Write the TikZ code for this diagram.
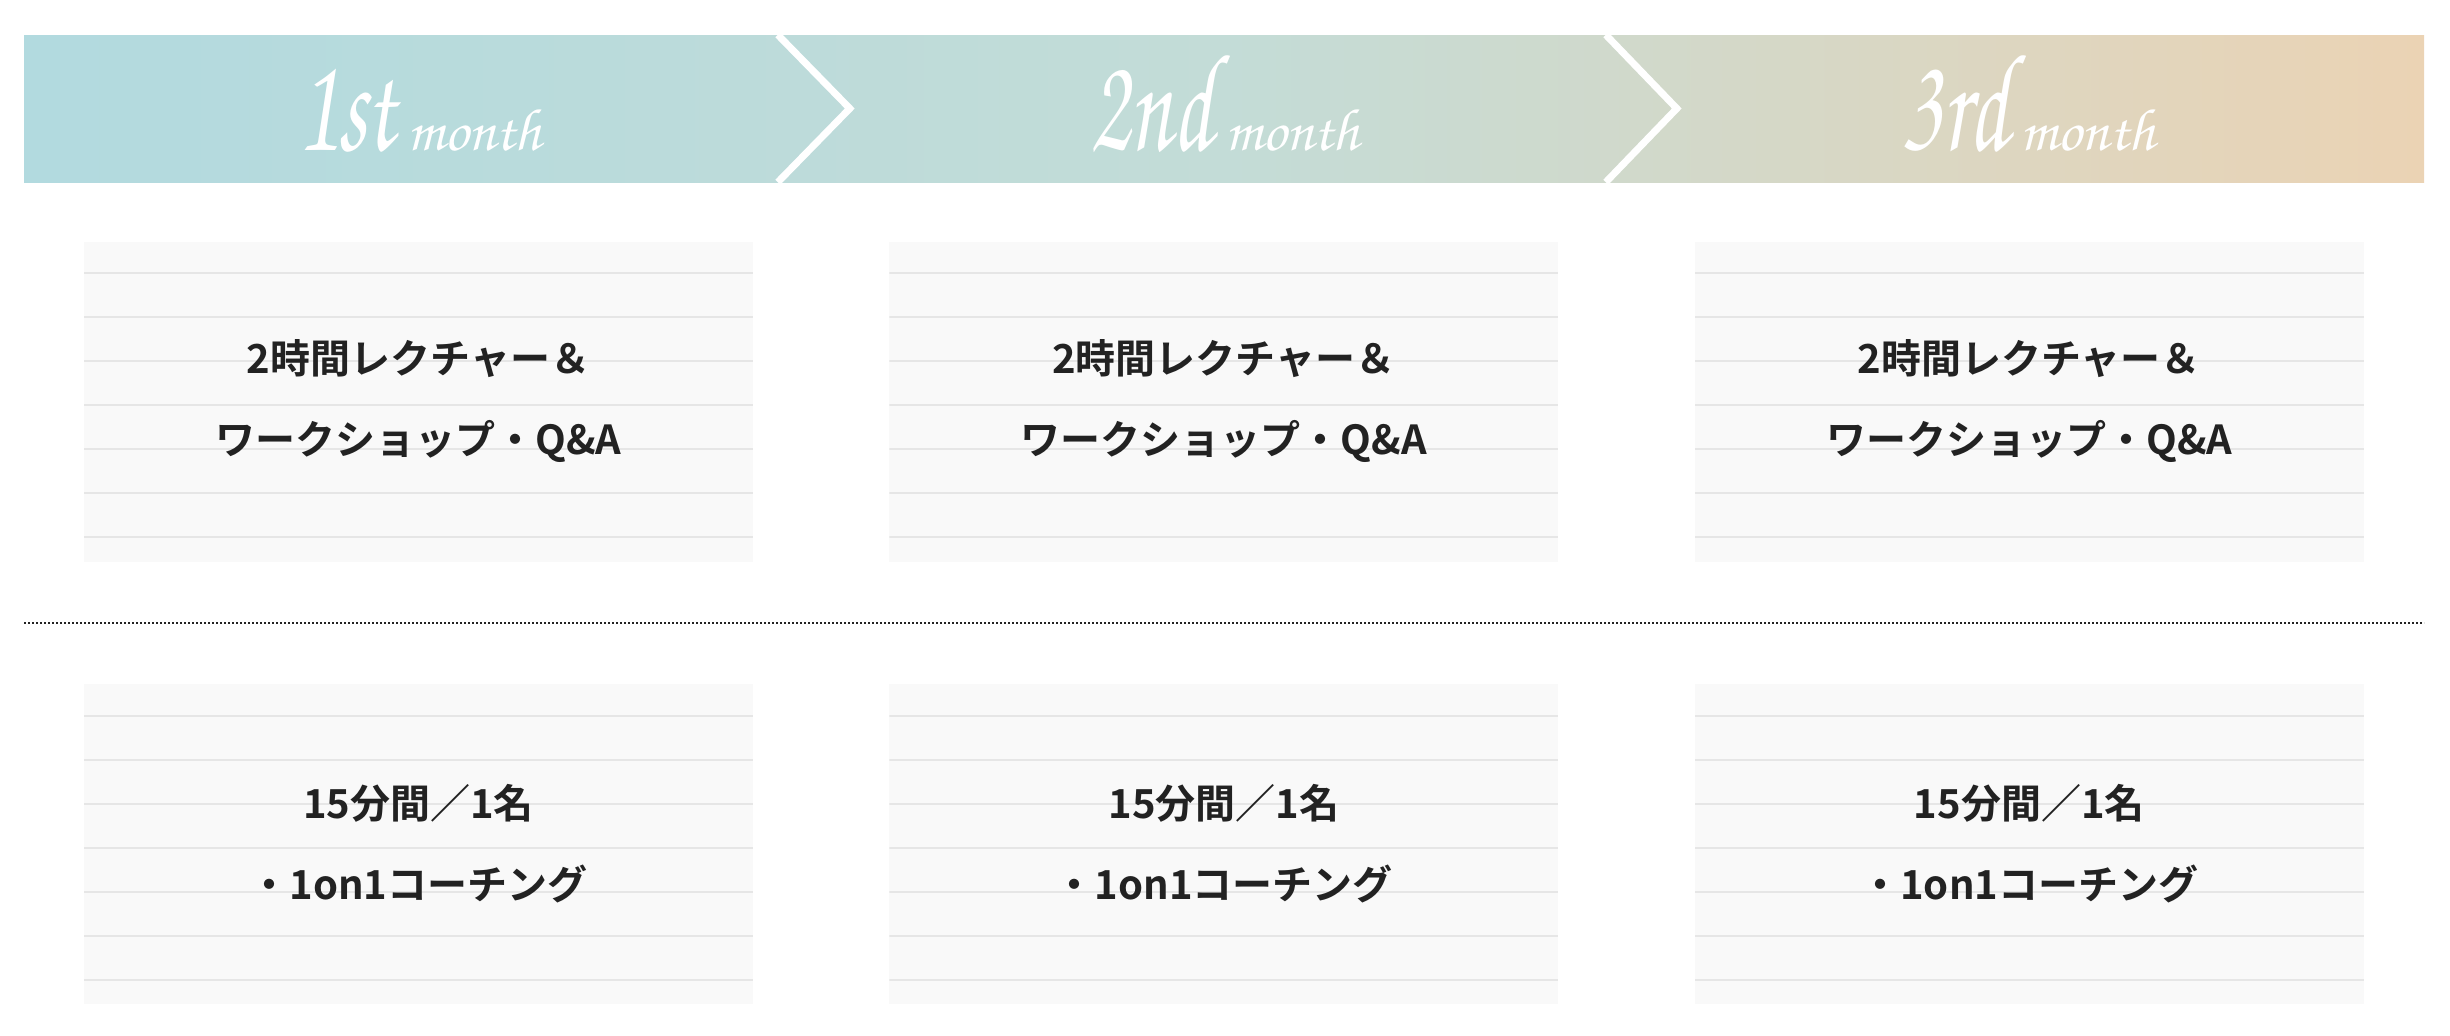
\documentclass[tikz,border=0pt]{standalone}
\usepackage{fontspec}
\usepackage{tikz}
\usetikzlibrary{positioning}
\newfontfamily\jpbold{Noto Sans CJK JP Bold}
\newfontfamily\handfont{texgyrechorus-mediumitalic.otf}

\definecolor{teal0}{HTML}{B2DADF}
\definecolor{teal1}{HTML}{C3DCD7}
\definecolor{sand0}{HTML}{EBD3B4}
\definecolor{panelbg}{HTML}{F9F9F9}
\definecolor{rulegray}{HTML}{E6E6E6}
\definecolor{ink}{HTML}{222222}

\newcommand{\ordnum}[1]{\scalebox{0.66}[1]{\handfont\fontsize{140pt}{140pt}\selectfont #1}}
\newcommand{\monthword}{{\handfont\fontsize{60pt}{60pt}\selectfont month}}

\tikzset{
  banner/.style={minimum width=2400pt, minimum height=147pt, inner sep=0pt,
    left color=teal0, right color=sand0, middle color=teal1},
  chevron/.style={draw=white, line width=7pt},
  headtext/.style={text=white, anchor=base, inner sep=0pt},
  panel/.style={minimum width=669pt, minimum height=320pt, inner sep=0pt,
    fill=panelbg, align=center, text=ink,
    font=\jpbold\fontsize{40pt}{81pt}\selectfont,
    execute at begin node={\rule{0pt}{44pt}},
    path picture={
      \foreach \k in {0,...,6}
        \draw[rulegray, line width=2pt]
          ([yshift=-31.6pt-\k*44pt]path picture bounding box.north west) --
          ([yshift=-31.6pt-\k*44pt]path picture bounding box.north east);
    }},
  divider/.style={draw=ink, line width=2pt, dash pattern=on 2pt off 2pt}
}

\begin{document}
\begin{tikzpicture}[x=1pt, y=-1pt, node distance=136pt]
    \useasboundingbox (0,0) rectangle (2450,1036);

    % month banner
    \node[banner] (band) at (1224,108.5) {};
    \begin{scope}
        \clip (band.north west) rectangle (band.south east);
        \draw[chevron] ([xshift=754pt]band.north west) -- ([xshift=826pt]band.west) -- ([xshift=754pt]band.south west);
        \draw[chevron] ([xshift=1582pt]band.north west) -- ([xshift=1653pt]band.west) -- ([xshift=1582pt]band.south west);
    \end{scope}
    \node[headtext] (h1) at (419,150) {\ordnum{1st}\hspace{12pt}\monthword};
    \node[headtext] (h2) at (1224,150) {\ordnum{2nd}\hspace{12pt}\monthword};
    \node[headtext] (h3) at (2028,150) {\ordnum{3rd}\hspace{12pt}\monthword};

    % lectures
    \node[panel] (lec1) at (418.5,401.5) {2時間レクチャー＆\\ワークショップ・Q\&A};
    \node[panel, right=of lec1] (lec2) {2時間レクチャー＆\\ワークショップ・Q\&A};
    \node[panel, right=of lec2] (lec3) {2時間レクチャー＆\\ワークショップ・Q\&A};

    \coordinate (divL) at (24,623);
    \coordinate (divR) at (2424,623);
    \draw[divider] (divL) -- (divR);

    % coaching
    \node[panel, below=122pt of lec1] (coach1) {15分間／1名\\・1on1コーチング};
    \node[panel, right=of coach1] (coach2) {15分間／1名\\・1on1コーチング};
    \node[panel, right=of coach2] (coach3) {15分間／1名\\・1on1コーチング};
\end{tikzpicture}
\end{document}
